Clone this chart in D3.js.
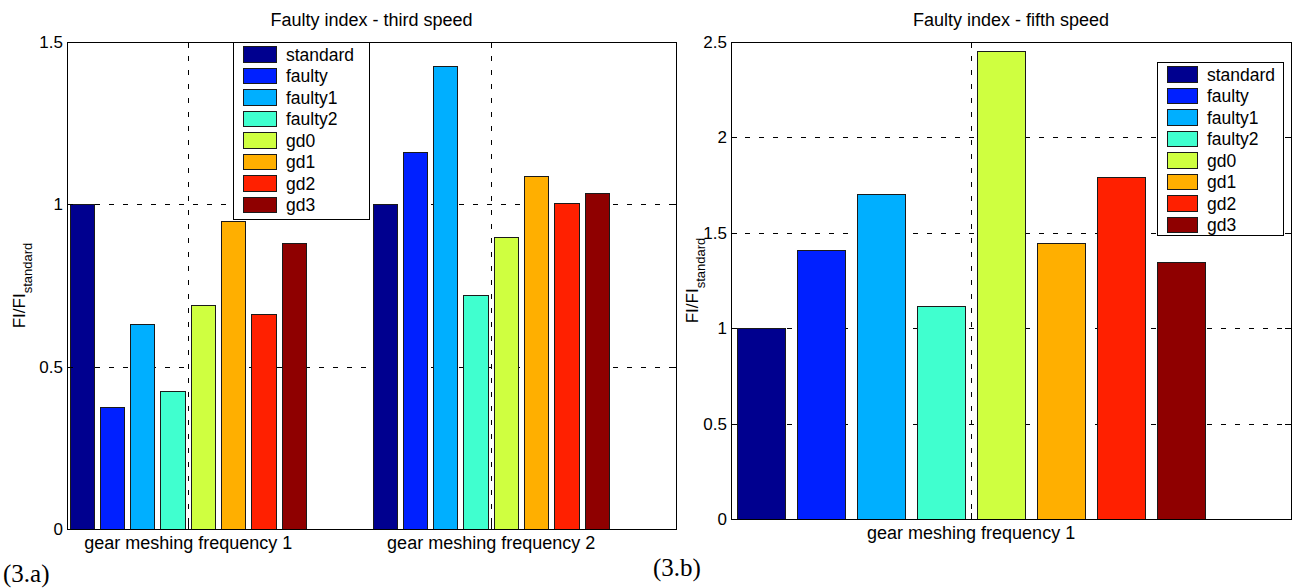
<!DOCTYPE html>
<meta charset="utf-8">
<style>
  body { margin: 0; background: #fff; }
  svg { font-family: "Liberation Sans", Arial, sans-serif; }
  .grid line { stroke: #000; stroke-width: 1; stroke-dasharray: 5,9; shape-rendering: crispEdges; }
  .frame { fill: none; stroke: #000; stroke-width: 1; shape-rendering: crispEdges; }
  .tick { stroke: #000; stroke-width: 1; shape-rendering: crispEdges; }
  .bar { stroke: #1a1a1a; stroke-width: 1; shape-rendering: crispEdges; }
  .lbl { font-size: 17px; fill: #000; }
  .big { font-size: 18px; fill: #000; }
  .cap { font-family: "Liberation Serif", "Times New Roman", serif; font-size: 25px; fill: #000; }
</style>
<body>
<svg id="chart" width="1294" height="588"></svg>
<script src="https://cdnjs.cloudflare.com/ajax/libs/d3/7.8.5/d3.min.js"></script>
<script>
// series names and colours (jet-like)
var series = ["standard", "faulty", "faulty1", "faulty2", "gd0", "gd1", "gd2", "gd3"];
var colors = ["#00008f", "#0020ff", "#00afff", "#40ffcf", "#cfff40", "#ffaf00", "#ff2000", "#8f0000"];

// third speed: one row per gear meshing frequency
var thirdGroups = ["gear meshing frequency 1", "gear meshing frequency 2"];
var thirdValues = [
  [1.0, 0.375, 0.63, 0.425, 0.687, 0.947, 0.66, 0.88],
  [1.0, 1.16, 1.423, 0.718, 0.897, 1.086, 1.003, 1.034]
];
var thirdTicks = [0, 0.5, 1, 1.5];

// fifth speed
var fifthGroups = ["gear meshing frequency 1"];
var fifthValues = [
  [1.0, 1.409, 1.70, 1.114, 2.449, 1.442, 1.788, 1.344]
];
var fifthTicks = [0, 0.5, 1, 1.5, 2, 2.5];

var svg = d3.select("#chart");

function panel(cfg) {
  var g = svg.append("g");
  var x = d3.scaleLinear().domain(cfg.xlim).range([cfg.left, cfg.right]);
  var y = d3.scaleLinear().domain(cfg.ylim).range([cfg.bottom, cfg.top]);
  var centers = cfg.groups.map(function(d, i) { return i + 1; });

  // dashed grid
  var grid = g.append("g").attr("class", "grid");
  grid.selectAll(".h").data(cfg.ticks).enter().append("line")
      .attr("x1", cfg.left).attr("x2", cfg.right)
      .attr("y1", function(d) { return Math.round(y(d)) + 0.5; })
      .attr("y2", function(d) { return Math.round(y(d)) + 0.5; });
  grid.selectAll(".v").data(centers).enter().append("line")
      .attr("y1", cfg.top).attr("y2", cfg.bottom)
      .attr("x1", function(d) { return Math.round(x(d)) + 0.5; })
      .attr("x2", function(d) { return Math.round(x(d)) + 0.5; });

  // grouped bars
  var pitch = 0.1, bw = 0.08;
  cfg.values.forEach(function(row, gi) {
    g.selectAll(null).data(row).enter().append("rect")
        .attr("class", "bar")
        .attr("x", function(d, i) { return x(gi + 1 + (i - 3.5) * pitch - bw / 2); })
        .attr("width", x(bw) - x(0))
        .attr("y", function(d) { return y(d); })
        .attr("height", function(d) { return y(0) - y(d); })
        .attr("fill", function(d, i) { return colors[i]; });
  });

  // frame and inward ticks
  g.append("rect").attr("class", "frame")
      .attr("x", cfg.left + 0.5).attr("y", cfg.top + 0.5)
      .attr("width", cfg.right - cfg.left).attr("height", cfg.bottom - cfg.top);
  cfg.ticks.forEach(function(t) {
    var yy = Math.round(y(t)) + 0.5;
    g.append("line").attr("class", "tick").attr("x1", cfg.left).attr("x2", cfg.left + 6).attr("y1", yy).attr("y2", yy);
    g.append("line").attr("class", "tick").attr("x1", cfg.right - 6).attr("x2", cfg.right).attr("y1", yy).attr("y2", yy);
    g.append("text").attr("class", "lbl")
        .attr("x", cfg.left - 4).attr("y", yy).attr("dy", "0.35em")
        .attr("text-anchor", "end").text(d3.format("~g")(t));
  });
  centers.forEach(function(c, i) {
    var xx = Math.round(x(c)) + 0.5;
    g.append("line").attr("class", "tick").attr("x1", xx).attr("x2", xx).attr("y1", cfg.bottom - 6).attr("y2", cfg.bottom);
    g.append("line").attr("class", "tick").attr("x1", xx).attr("x2", xx).attr("y1", cfg.top).attr("y2", cfg.top + 6);
    g.append("text").attr("class", "big")
        .attr("x", x(c)).attr("y", cfg.bottom + 20)
        .attr("text-anchor", "middle").text(cfg.groups[i]);
  });

  // title
  g.append("text").attr("class", "big")
      .attr("x", (cfg.left + cfg.right) / 2).attr("y", 26)
      .attr("text-anchor", "middle").text(cfg.title);

  // y label FI/FI_standard
  var yl = g.append("text").attr("class", "lbl")
      .attr("transform", "translate(" + cfg.ylabelX + "," + (cfg.top + cfg.bottom) / 2 + ") rotate(-90)")
      .attr("text-anchor", "middle");
  yl.append("tspan").text("FI/FI");
  yl.append("tspan").attr("dy", 7).attr("font-size", "13px").text("standard");

  // legend
  var lg = g.append("g");
  lg.append("rect").attr("x", cfg.legX + 0.5).attr("y", cfg.legY + 0.5)
      .attr("width", cfg.legW).attr("height", cfg.legH)
      .attr("fill", "#fff").attr("stroke", "#000").attr("shape-rendering", "crispEdges");
  series.forEach(function(s, i) {
    var ry = cfg.legY + 4.5 + i * 21.5;
    lg.append("rect").attr("class", "bar")
        .attr("x", cfg.legX + 10).attr("y", ry)
        .attr("width", cfg.swW).attr("height", 15.5).attr("fill", colors[i]);
    lg.append("text").attr("class", "lbl")
        .attr("x", cfg.legX + cfg.swW + 20).attr("y", ry + 8).attr("dy", "0.35em")
        .style("font-size", "17.5px")
        .text(s);
  });
}

panel({
  title: "Faulty index - third speed",
  groups: thirdGroups, values: thirdValues, ticks: thirdTicks,
  left: 67, right: 676, top: 42, bottom: 529,
  xlim: [0.6, 2.61], ylim: [0, 1.5],
  ylabelX: 25,
  legX: 233, legY: 42, legW: 136, legH: 177, swW: 33
});

panel({
  title: "Faulty index - fifth speed",
  groups: fifthGroups, values: fifthValues, ticks: fifthTicks,
  left: 731, right: 1291, top: 42, bottom: 519,
  xlim: [0.6, 1.533], ylim: [0, 2.5],
  ylabelX: 698,
  legX: 1157, legY: 62, legW: 126, legH: 173, swW: 30
});

// figure captions
svg.append("text").attr("class", "cap").attr("x", 3).attr("y", 582).text("(3.a)");
svg.append("text").attr("class", "cap").attr("x", 653).attr("y", 576).text("(3.b)");
</script>
</body>
